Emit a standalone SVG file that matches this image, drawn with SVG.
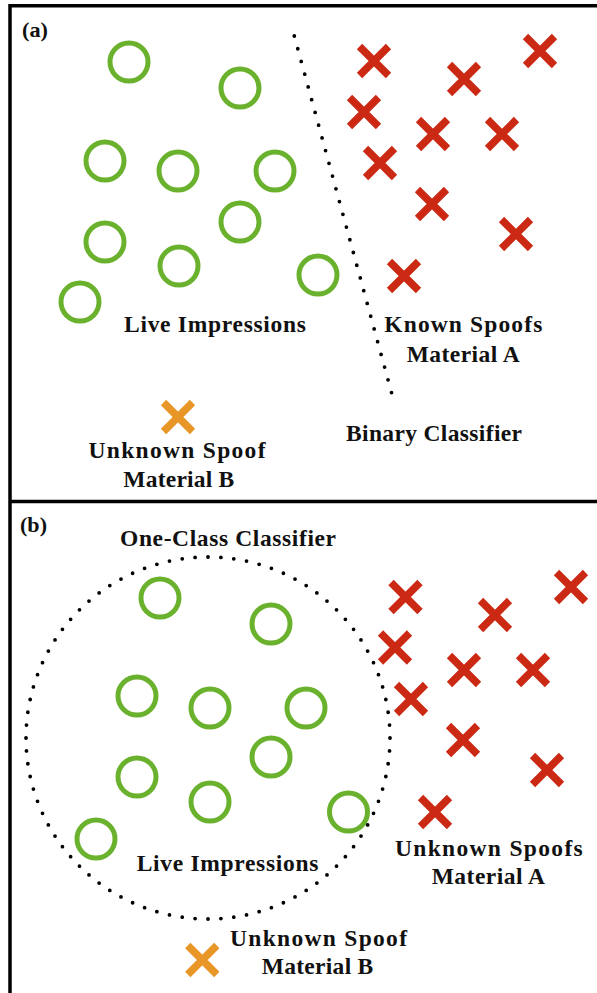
<svg xmlns="http://www.w3.org/2000/svg" width="597" height="993" viewBox="0 0 597 993">
<defs>
<style>
.live{fill:none;stroke:#6ab22e;stroke-width:5}
.sp{fill:none;stroke:#cc2914;stroke-width:7.5}
.ub{fill:none;stroke:#e89628;stroke-width:7.5}
.lbl{font-family:"Liberation Serif","Times New Roman",serif;font-weight:bold;font-size:23.5px;fill:#111}
.tag{font-family:"Liberation Serif","Times New Roman",serif;font-weight:bold;font-size:20px;fill:#111}
.dots{fill:none;stroke:#000;stroke-width:3.8;stroke-linecap:round}
.frame{fill:none;stroke:#000;stroke-width:3.5}
</style>
<path id="x" d="M-14.5,-14.5L14.5,14.5M14.5,-14.5L-14.5,14.5"/>
</defs>
<rect width="597" height="993" fill="#fff"/>
<g id="frame">
<path class="frame" d="M10,1000V5.7H600M10,501.5H600"/>
</g>
<g id="panel-a">
<text class="tag" x="22" y="37" textLength="26" lengthAdjust="spacingAndGlyphs">(a)</text>
<g id="a-live">
<circle class="live" cx="129" cy="62" r="19"/>
<circle class="live" cx="240" cy="88" r="19"/>
<circle class="live" cx="105" cy="161" r="19"/>
<circle class="live" cx="178" cy="171" r="19"/>
<circle class="live" cx="275" cy="171" r="19"/>
<circle class="live" cx="240" cy="222" r="19"/>
<circle class="live" cx="105" cy="242" r="19"/>
<circle class="live" cx="179" cy="266" r="19"/>
<circle class="live" cx="318" cy="275" r="19"/>
<circle class="live" cx="80" cy="302" r="19"/>
</g>
<g id="a-spoofs">
<use href="#x" class="sp" x="374" y="61"/>
<use href="#x" class="sp" x="540" y="51"/>
<use href="#x" class="sp" x="464" y="79"/>
<use href="#x" class="sp" x="364" y="112"/>
<use href="#x" class="sp" x="433" y="134"/>
<use href="#x" class="sp" x="502" y="134"/>
<use href="#x" class="sp" x="380" y="163"/>
<use href="#x" class="sp" x="432" y="204"/>
<use href="#x" class="sp" x="516" y="234"/>
<use href="#x" class="sp" x="404" y="276"/>
</g>
<g id="a-unknown">
<use href="#x" class="ub" x="178" y="417"/>
</g>
<g id="a-classifier">
<path class="dots" d="M294.3,36L391.7,393.3" stroke-dasharray="0 13.2"/>
</g>
<text class="lbl" x="124" y="332" textLength="182" lengthAdjust="spacing">Live Impressions</text>
<text class="lbl" x="384.3" y="332" textLength="158" lengthAdjust="spacing">Known Spoofs</text>
<text class="lbl" x="406.7" y="361.7" textLength="113" lengthAdjust="spacing">Material A</text>
<text class="lbl" x="346" y="441" textLength="176" lengthAdjust="spacing">Binary Classifier</text>
<text class="lbl" x="88.5" y="458.3" textLength="177" lengthAdjust="spacing">Unknown Spoof</text>
<text class="lbl" x="123.3" y="486.7" textLength="111" lengthAdjust="spacing">Material B</text>
</g>
<g id="panel-b">
<text class="tag" x="20" y="532" textLength="27" lengthAdjust="spacingAndGlyphs">(b)</text>
<g id="b-live">
<circle class="live" cx="160" cy="598" r="19"/>
<circle class="live" cx="271" cy="624" r="19"/>
<circle class="live" cx="137" cy="696" r="19"/>
<circle class="live" cx="210" cy="708" r="19"/>
<circle class="live" cx="306" cy="708" r="19"/>
<circle class="live" cx="271" cy="757" r="19"/>
<circle class="live" cx="137" cy="777" r="19"/>
<circle class="live" cx="210" cy="802" r="19"/>
<circle class="live" cx="348.5" cy="812" r="19"/>
<circle class="live" cx="96" cy="839" r="19"/>
</g>
<g id="b-spoofs">
<use href="#x" class="sp" x="405.5" y="597"/>
<use href="#x" class="sp" x="571" y="587"/>
<use href="#x" class="sp" x="495" y="615"/>
<use href="#x" class="sp" x="395" y="647.5"/>
<use href="#x" class="sp" x="464" y="670"/>
<use href="#x" class="sp" x="533" y="670"/>
<use href="#x" class="sp" x="411" y="699"/>
<use href="#x" class="sp" x="463" y="740"/>
<use href="#x" class="sp" x="547" y="770"/>
<use href="#x" class="sp" x="435" y="812"/>
</g>
<g id="b-unknown">
<use href="#x" class="ub" x="202.3" y="960"/>
</g>
<g id="b-classifier">
<ellipse class="dots" cx="208" cy="738" rx="182" ry="181" pathLength="88" stroke-dasharray="0 1"/>
</g>
<text class="lbl" x="120" y="546" textLength="216" lengthAdjust="spacing">One-Class Classifier</text>
<text class="lbl" x="136.7" y="870.7" textLength="181.6" lengthAdjust="spacing">Live Impressions</text>
<text class="lbl" x="395" y="856" textLength="187.7" lengthAdjust="spacing">Unknown Spoofs</text>
<text class="lbl" x="431.7" y="884.3" textLength="113.3" lengthAdjust="spacing">Material A</text>
<text class="lbl" x="230" y="945.7" textLength="177" lengthAdjust="spacing">Unknown Spoof</text>
<text class="lbl" x="261.7" y="974" textLength="111.6" lengthAdjust="spacing">Material B</text>
</g>
</svg>
